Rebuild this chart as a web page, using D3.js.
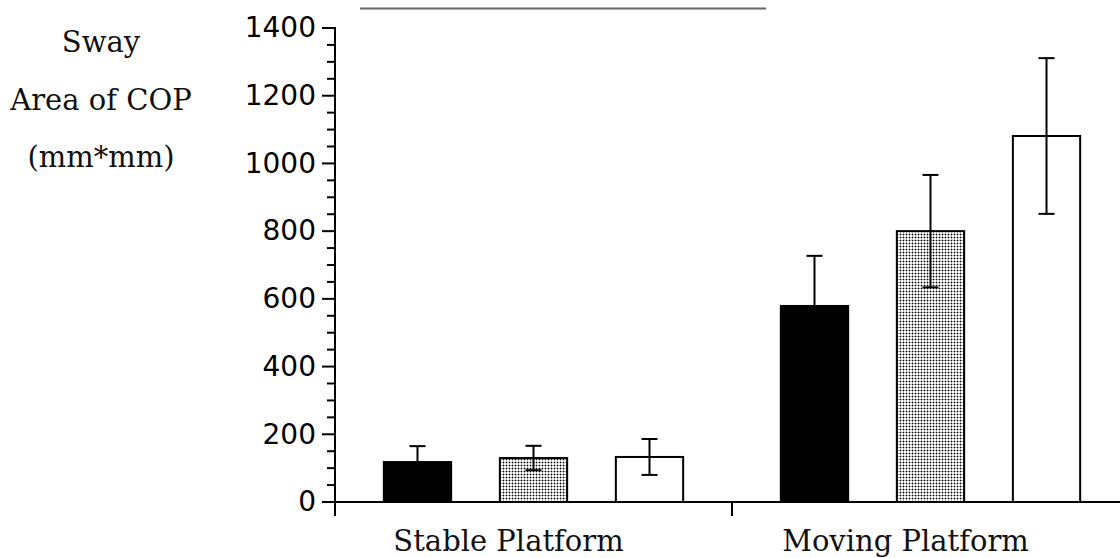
<!DOCTYPE html>
<html>
<head>
<meta charset="utf-8">
<script src="https://cdn.jsdelivr.net/npm/d3@7"></script>
<style>
  html, body { margin: 0; padding: 0; background: #fff; }
  svg { display: block; }
  .tick-label { font-family: "DejaVu Sans", sans-serif; font-size: 28px; fill: #000; }
  .serif { font-family: "DejaVu Serif", serif; font-size: 29px; fill: #111; }
</style>
</head>
<body>
<div id="chart"></div>
<script>
// data
const groups = ['Stable Platform', 'Moving Platform'];
const conditions = ['black', 'dotted', 'white'];
const means = {
  'Stable Platform': [118, 130, 133],
  'Moving Platform': [579, 800, 1081],
};
const errors = {
  'Stable Platform': [47, 36, 53],
  'Moving Platform': [148, 166, 230],
};
const majorTicks = [0, 200, 400, 600, 800, 1000, 1200, 1400];
const minorTicks = d3.range(0, 1401, 50);
const yLabelLines = ['Sway', 'Area of COP', '(mm*mm)'];

const width = 1120, height = 558;
const svg = d3.select('#chart').append('svg').attr('width', width).attr('height', height);

// dotted fill pattern
const defs = svg.append('defs');
const pat = defs.append('pattern').attr('id', 'dots')
  .attr('patternUnits', 'userSpaceOnUse').attr('width', 3).attr('height', 3);
pat.append('rect').attr('width', 3).attr('height', 3).attr('fill', '#fff');
pat.append('rect').attr('x', 0).attr('y', 0).attr('width', 1).attr('height', 3).attr('fill', '#a8a8a8');
pat.append('rect').attr('x', 0).attr('y', 0).attr('width', 3).attr('height', 1).attr('fill', '#a8a8a8');
pat.append('rect').attr('x', 0).attr('y', 0).attr('width', 1).attr('height', 1).attr('fill', '#000');

const fills = { black: '#000', dotted: 'url(#dots)', white: '#fff' };

// scales
const axisX = 335;
const y = d3.scaleLinear().domain([0, 1400]).range([502, 28]);
const x0 = d3.scaleBand().domain(groups).range([axisX, axisX + 794]).padding(0);
const x1 = d3.scaleBand().domain(conditions).range([0, x0.bandwidth()])
  .paddingInner(0.42).paddingOuter(0.421);

// top gray rule
svg.append('line').attr('x1', 360).attr('x2', 766).attr('y1', 8.5).attr('y2', 8.5)
  .attr('stroke', '#666').attr('stroke-width', 2);

// bars
const g = svg.append('g');
const grp = g.selectAll('g.grp').data(groups).join('g').attr('class', 'grp')
  .attr('transform', d => `translate(${x0(d)},0)`);

const rows = gname => conditions.map((c, i) => ({ c, v: means[gname][i], e: errors[gname][i] }));

grp.selectAll('rect').data(rows)
  .join('rect')
  .attr('x', d => x1(d.c))
  .attr('y', d => y(d.v))
  .attr('width', x1.bandwidth())
  .attr('height', d => y(0) - y(d.v))
  .attr('fill', d => fills[d.c])
  .attr('stroke', '#000')
  .attr('stroke-width', 2);

// error bars
const eb = grp.selectAll('g.err').data(rows)
  .join('g').attr('class', 'err')
  .attr('transform', d => `translate(${x1(d.c) + x1.bandwidth() / 2},0)`)
  .attr('stroke', '#000').attr('stroke-width', 2);
eb.append('line').attr('y1', d => y(d.v - d.e)).attr('y2', d => y(d.v + d.e));
eb.append('line').attr('x1', -8).attr('x2', 8).attr('y1', d => y(d.v + d.e)).attr('y2', d => y(d.v + d.e));
eb.append('line').attr('x1', -8).attr('x2', 8).attr('y1', d => y(d.v - d.e)).attr('y2', d => y(d.v - d.e));

// y axis
const yAxis = svg.append('g').attr('stroke', '#000').attr('stroke-width', 2);
yAxis.append('line').attr('x1', axisX).attr('x2', axisX).attr('y1', y(1400) - 1).attr('y2', 516);
yAxis.selectAll('line.minor').data(minorTicks.filter(t => t % 200 !== 0)).join('line').attr('class', 'minor')
  .attr('x1', axisX - 8).attr('x2', axisX).attr('y1', d => y(d)).attr('y2', d => y(d));
yAxis.selectAll('line.major').data(majorTicks).join('line').attr('class', 'major')
  .attr('x1', axisX - 13).attr('x2', axisX).attr('y1', d => y(d)).attr('y2', d => y(d));
svg.append('g').selectAll('text').data(majorTicks).join('text').attr('class', 'tick-label')
  .attr('x', 316).attr('y', d => y(d)).attr('dy', '0.33em').attr('text-anchor', 'end')
  .text(d => d);

// x axis
const xAxis = svg.append('g').attr('stroke', '#000').attr('stroke-width', 2);
xAxis.append('line').attr('x1', axisX).attr('x2', width).attr('y1', y(0)).attr('y2', y(0));
xAxis.selectAll('line.sep').data(groups.slice(1)).join('line').attr('class', 'sep')
  .attr('x1', d => x0(d)).attr('x2', d => x0(d)).attr('y1', y(0)).attr('y2', 516);
svg.append('g').selectAll('text').data(groups).join('text').attr('class', 'serif')
  .attr('x', d => x0(d) + x0.bandwidth() / 2 - 25).attr('y', 551).attr('text-anchor', 'middle')
  .text(d => d);

// y label
svg.append('g').selectAll('text').data(yLabelLines).join('text').attr('class', 'serif')
  .attr('x', 101).attr('y', (d, i) => 52 + i * 57.5).attr('text-anchor', 'middle')
  .text(d => d);
</script>
</body>
</html>
